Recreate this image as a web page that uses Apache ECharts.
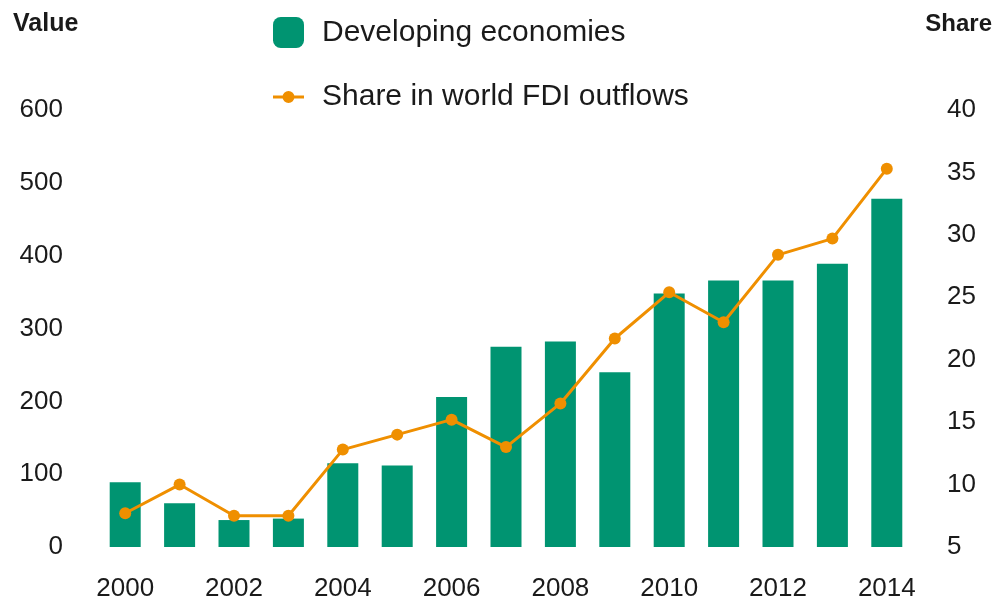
<!DOCTYPE html>
<html>
<head>
<meta charset="utf-8">
<script src="https://cdn.jsdelivr.net/npm/echarts@6/dist/echarts.min.js"></script>
<style>
  html, body { margin: 0; padding: 0; background: #fff; }
</style>
</head>
<body>
<div id="myChart" style="width: 998px; height: 602px;"></div>
<script>
var years = ["2000", "2001", "2002", "2003", "2004", "2005", "2006", "2007",
  "2008", "2009", "2010", "2011", "2012", "2013", "2014"];
var developingValue = [89, 60, 37, 39, 115, 112, 206, 275, 282, 240, 348, 366, 366, 389, 478];
var worldShare = [7.7, 10.0, 7.5, 7.5, 12.8, 14.0, 15.2, 13.0, 16.5, 21.7, 25.4, 23.0, 28.4, 29.7, 35.3];

var fontName = "'Liberation Sans', Arial, sans-serif";
var green = "#009471";
var orange = "#ef8f00";
var lineIcon = "path://M0,4.5 L31,4.5 L31,7.5 L0,7.5 Z M9.5,6 A6,6 0 1,1 21.5,6 A6,6 0 1,1 9.5,6 Z";

var myChart = echarts.init(document.getElementById("myChart"));
myChart.setOption({
  animation: false,
  textStyle: { fontFamily: fontName },
  legend: {
    orient: "vertical",
    left: 273,
    top: 17,
    padding: 0,
    itemWidth: 31,
    itemHeight: 31,
    itemGap: 34,
    textStyle: {
      fontSize: 30,
      color: "#1a1a1a",
      fontFamily: fontName,
      padding: [0, 0, 0, 13]
    },
    data: [
      { name: "Developing economies", icon: "roundRect" },
      { name: "Share in world FDI outflows", icon: lineIcon, itemStyle: { color: orange } }
    ]
  },
  graphic: [
    {
      type: "text",
      left: 13,
      top: 12,
      style: { text: "Value", fontSize: 25, fontWeight: "bold", fontFamily: fontName, fill: "#1a1a1a" }
    },
    {
      type: "text",
      right: 6,
      top: 12,
      style: { text: "Share", fontSize: 24, fontWeight: "bold", fontFamily: fontName, fill: "#1a1a1a" }
    }
  ],
  grid: {
    left: 98,
    right: 84,
    top: 110,
    bottom: 55
  },
  xAxis: {
    type: "category",
    data: years,
    axisLine: { show: false },
    axisTick: { show: false },
    axisLabel: {
      interval: 1,
      fontSize: 26,
      color: "#1a1a1a",
      margin: 29
    }
  },
  yAxis: [
    {
      type: "value",
      min: 0,
      max: 600,
      interval: 100,
      axisLine: { show: false },
      axisTick: { show: false },
      splitLine: { show: false },
      axisLabel: {
        fontSize: 26,
        color: "#1a1a1a",
        margin: 35,
        padding: [0, 0, 8, 0]
      }
    },
    {
      type: "value",
      min: 5,
      max: 40,
      interval: 5,
      position: "right",
      axisLine: { show: false },
      axisTick: { show: false },
      splitLine: { show: false },
      axisLabel: {
        fontSize: 26,
        color: "#1a1a1a",
        margin: 33,
        padding: [0, 0, 8, 0]
      }
    }
  ],
  series: [
    {
      name: "Developing economies",
      type: "bar",
      data: developingValue,
      barWidth: 31,
      itemStyle: { color: green }
    },
    {
      name: "Share in world FDI outflows",
      type: "line",
      yAxisIndex: 1,
      data: worldShare,
      symbol: "circle",
      symbolSize: 12,
      lineStyle: { color: orange, width: 3 },
      itemStyle: { color: orange }
    }
  ]
});
</script>
</body>
</html>
